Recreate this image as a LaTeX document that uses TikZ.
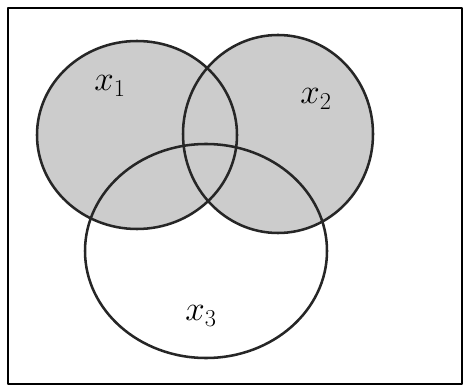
\documentclass[tikz,border=0pt]{standalone}
\usepackage{amsmath,amssymb}
\usepackage{tikz}

\begin{document}
\begin{tikzpicture}[x=0.025cm,y=-0.025cm, line width=1.8pt, line join=round, line cap=round, font=\fontsize{24}{28}\selectfont]
	\def \rax{100} %ban kinh ngang x1
	\def \ray{94} %ban kinh doc x1
	\def \rbx{95} %ban kinh ngang x2
	\def \rby{99} %ban kinh doc x2
	\def \rcx{121} %ban kinh ngang x3
	\def \rcy{107} %ban kinh doc x3
	\useasboundingbox (0,0) rectangle (464,392);
	\coordinate (O1) at (137,135);
	\coordinate (O2) at (278,134);
	\coordinate (O3) at (206,251);
	\fill[black!20] (O1) ellipse [x radius=\rax, y radius=\ray] (O2) ellipse [x radius=\rbx, y radius=\rby];
	\draw[line width=1.4pt] (8,8) rectangle (462,384);
	\draw[black!85] (O1) ellipse [x radius=\rax, y radius=\ray];
	\draw[black!85] (O2) ellipse [x radius=\rbx, y radius=\rby];
	\draw[black!85] (O3) ellipse [x radius=\rcx, y radius=\rcy];
	\node (x1) at (110,86) {$x_1$};
	\node (x2) at (316,99) {$x_2$};
	\node (x3) at (201,316) {$x_3$};
\end{tikzpicture}
\end{document}
